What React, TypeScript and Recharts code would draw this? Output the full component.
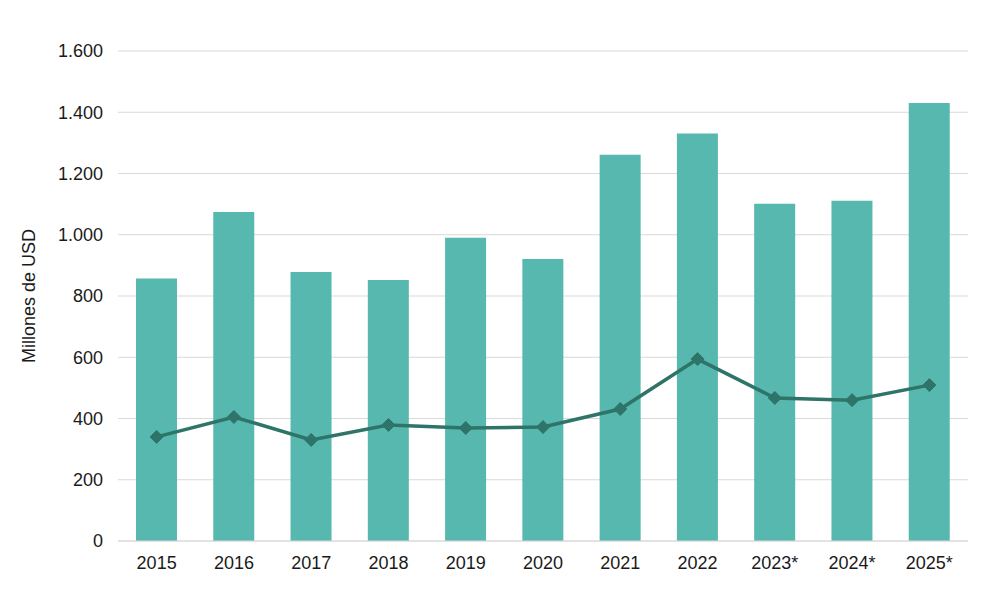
import React from 'react';
import {
  ComposedChart, Bar, Line, XAxis, YAxis, CartesianGrid,
} from 'recharts';

const years = ['2015', '2016', '2017', '2018', '2019', '2020', '2021', '2022', '2023*', '2024*', '2025*'];
const barValues = [857, 1074, 878, 852, 990, 921, 1261, 1331, 1101, 1111, 1430];
const lineValues = [340, 405, 330, 379, 369, 372, 431, 594, 467, 460, 509];
const yTicks = [0, 200, 400, 600, 800, 1000, 1200, 1400, 1600];

const data = years.map((year, i) => ({ year, total: barValues[i], linea: lineValues[i] }));

const BAR_COLOR = '#56b8ae';
const LINE_COLOR = '#2f7468';
const GRID_COLOR = '#d9d9d9';
const TEXT_COLOR = '#1a1a1a';
const FONT = '"Liberation Sans", Arial, sans-serif';

const fmt = (v: number) => v.toString().replace(/\B(?=(\d{3})+(?!\d))/g, '.');

const Diamond = (props: any) => {
  const { cx, cy } = props;
  if (cx == null || cy == null) return null;
  const r = 6.5;
  return (
    <polygon
      points={`${cx},${cy - r} ${cx + r},${cy} ${cx},${cy + r} ${cx - r},${cy}`}
      fill={LINE_COLOR}
      stroke={LINE_COLOR}
      strokeWidth={1}
    />
  );
};

const App: React.FC = () => {
  return (
    <div style={{ position: 'absolute', left: 0, top: 0, width: 990, height: 597, background: '#fff' }}>
      <ComposedChart
        width={990}
        height={597}
        data={data}
        margin={{ top: 51, right: 22, bottom: 26, left: 0 }}
      >
        <CartesianGrid vertical={false} stroke={GRID_COLOR} strokeWidth={1} />
        <XAxis
          dataKey="year"
          height={30}
          axisLine={{ stroke: GRID_COLOR }}
          tickLine={false}
          tickMargin={9}
          tick={{ fill: TEXT_COLOR, fontSize: 18, fontFamily: FONT }}
        />
        <YAxis
          width={118}
          domain={[0, 1600]}
          ticks={yTicks}
          axisLine={false}
          tickLine={false}
          tickMargin={9}
          tickFormatter={fmt}
          tick={{ fill: TEXT_COLOR, fontSize: 18, fontFamily: FONT }}
          label={{
            value: 'Millones de USD',
            angle: -90,
            position: 'insideLeft',
            offset: 29,
            style: { fill: TEXT_COLOR, fontSize: 18, fontFamily: FONT, textAnchor: 'middle' },
          }}
        />
        <Bar dataKey="total" fill={BAR_COLOR} barSize={41} isAnimationActive={false} />
        <Line
          type="linear"
          dataKey="linea"
          stroke={LINE_COLOR}
          strokeWidth={3.5}
          dot={<Diamond />}
          activeDot={false}
          isAnimationActive={false}
        />
      </ComposedChart>
    </div>
  );
};

export default App;
